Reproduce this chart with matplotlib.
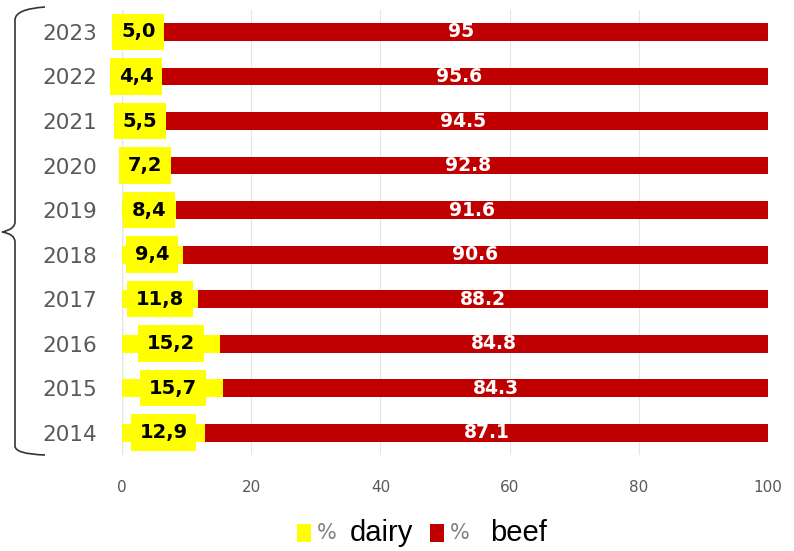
import matplotlib.pyplot as plt
from matplotlib.path import Path
from matplotlib.patches import PathPatch, Rectangle

years = ["2014", "2015", "2016", "2017", "2018", "2019", "2020", "2021", "2022", "2023"]
dairy = [12.9, 15.7, 15.2, 11.8, 9.4, 8.4, 7.2, 5.5, 4.4, 5.0]
beef = [87.1, 84.3, 84.8, 88.2, 90.6, 91.6, 92.8, 94.5, 95.6, 95]
dairy_labels = ["12,9", "15,7", "15,2", "11,8", "9,4", "8,4", "7,2", "5,5", "4,4", "5,0"]
beef_labels = ["87.1", "84.3", "84.8", "88.2", "90.6", "91.6", "92.8", "94.5", "95.6", "95"]

W, H = 794, 551
fig = plt.figure(figsize=(W / 100, H / 100), dpi=100)
ax = fig.add_axes([122 / W, 1 - 455 / H, (768 - 122) / W, (455 - 9.7) / H])

yellow = "#FFFF00"
red = "#C00000"
pos = range(len(years))
ax.barh(pos, dairy, height=0.4, color=yellow, zorder=2)
ax.barh(pos, beef, left=dairy, height=0.4, color=red, zorder=2)

for i in pos:
    ax.text(dairy[i] / 2, i, dairy_labels[i], ha="center", va="center",
            fontsize=14, fontweight="bold", color="black", zorder=4,
            bbox=dict(boxstyle="square,pad=0.45", fc=yellow, ec="none"))
    ax.text(dairy[i] + beef[i] / 2, i, beef_labels[i], ha="center", va="center",
            fontsize=13.5, fontweight="bold", color="white", zorder=4)

ax.set_xlim(0, 100)
ax.set_ylim(-0.5, len(years) - 0.5)
ax.set_xticks([0, 20, 40, 60, 80, 100])
ax.set_yticks(list(pos))
ax.set_yticklabels(years, fontsize=15.5, color="#595959")
ax.tick_params(axis="x", labelsize=11, labelcolor="#595959", length=0, pad=18)
ax.tick_params(axis="y", length=0, pad=18)
ax.grid(axis="x", color="#e6e6e6", linewidth=0.8, zorder=0)
for s in ax.spines.values():
    s.set_visible(False)
ax.axvline(0, color="#d9d9d9", linewidth=1, zorder=1)

# curly brace on the left
def fp(x, y):
    return (x / W, 1 - y / H)

verts = [fp(45, 7), fp(15, 9), fp(15, 20),
         fp(15, 222),
         fp(15, 230), fp(2, 232), fp(2, 232),
         fp(15, 234), fp(15, 242),
         fp(15, 446),
         fp(15, 454), fp(45, 455)]
codes = [Path.MOVETO, Path.CURVE3, Path.CURVE3,
         Path.LINETO,
         Path.CURVE4, Path.CURVE4, Path.CURVE4,
         Path.CURVE3, Path.CURVE3,
         Path.LINETO,
         Path.CURVE3, Path.CURVE3]
fig.patches.append(PathPatch(Path(verts, codes), fill=False, ec="#333333",
                             lw=1.2, transform=fig.transFigure))

# legend
for x0, col, lab, tx in [(297, yellow, "dairy", 350), (430, red, "beef", 490)]:
    fig.patches.append(Rectangle(fp(x0, 542), 14 / W, 18 / H, fc=col, ec="none",
                                 transform=fig.transFigure))
    fig.text(*fp(x0 + 20, 533), "%", fontsize=15, color="#7f7f7f", va="center")
    fig.text(*fp(tx, 533), lab, fontsize=21, color="black", va="center",
             family="Liberation Sans")

fig.savefig("out.png", dpi=100)
